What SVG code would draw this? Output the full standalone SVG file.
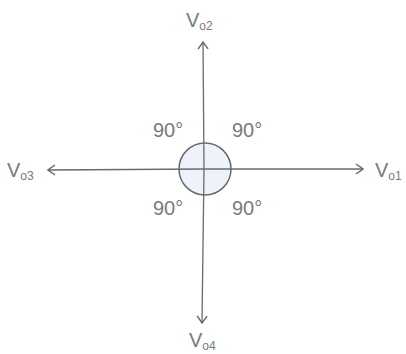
<svg xmlns="http://www.w3.org/2000/svg" width="406" height="354" viewBox="0 0 406 354">
<defs>
<marker id="arr" viewBox="0 0 12 12" refX="11" refY="6" markerWidth="12" markerHeight="12" markerUnits="userSpaceOnUse" orient="auto">
<path d="M4,1 L11,6 L4,11" fill="none" stroke="#666" stroke-width="1.4"/>
</marker>
<style>
.ln{stroke:#6a6a6a;stroke-width:1.3;fill:none}
.t{font-family:"Liberation Sans",Arial,sans-serif;fill:#7a7a7a;font-size:20px}
.s{font-size:12px}
</style>
</defs>
<rect width="406" height="354" fill="#fff"/>
<g id="center">
<circle cx="205" cy="169" r="26" fill="#eef2fb" stroke="#6a6a6a" stroke-width="1.5"/>
</g>
<g id="connectors">
<line class="ln" x1="205" y1="169" x2="363" y2="169" marker-end="url(#arr)"/>
<line class="ln" x1="205" y1="169" x2="48" y2="170" marker-end="url(#arr)"/>
<line class="ln" x1="204" y1="169" x2="203" y2="42" marker-end="url(#arr)"/>
<line class="ln" x1="204" y1="169" x2="202" y2="323" marker-end="url(#arr)"/>
</g>
<g id="vo1"><text class="t" x="375" y="177">V<tspan class="s" dy="3">o1</tspan></text></g>
<g id="vo2"><text class="t" x="186" y="27">V<tspan class="s" dy="3">o2</tspan></text></g>
<g id="vo3"><text class="t" x="7" y="177">V<tspan class="s" dy="3">o3</tspan></text></g>
<g id="vo4"><text class="t" x="189" y="347">V<tspan class="s" dy="3">o4</tspan></text></g>
<g id="angles">
<text class="t" x="153" y="137">90°</text>
<text class="t" x="232" y="137">90°</text>
<text class="t" x="153" y="215">90°</text>
<text class="t" x="232" y="215">90°</text>
</g>
</svg>
